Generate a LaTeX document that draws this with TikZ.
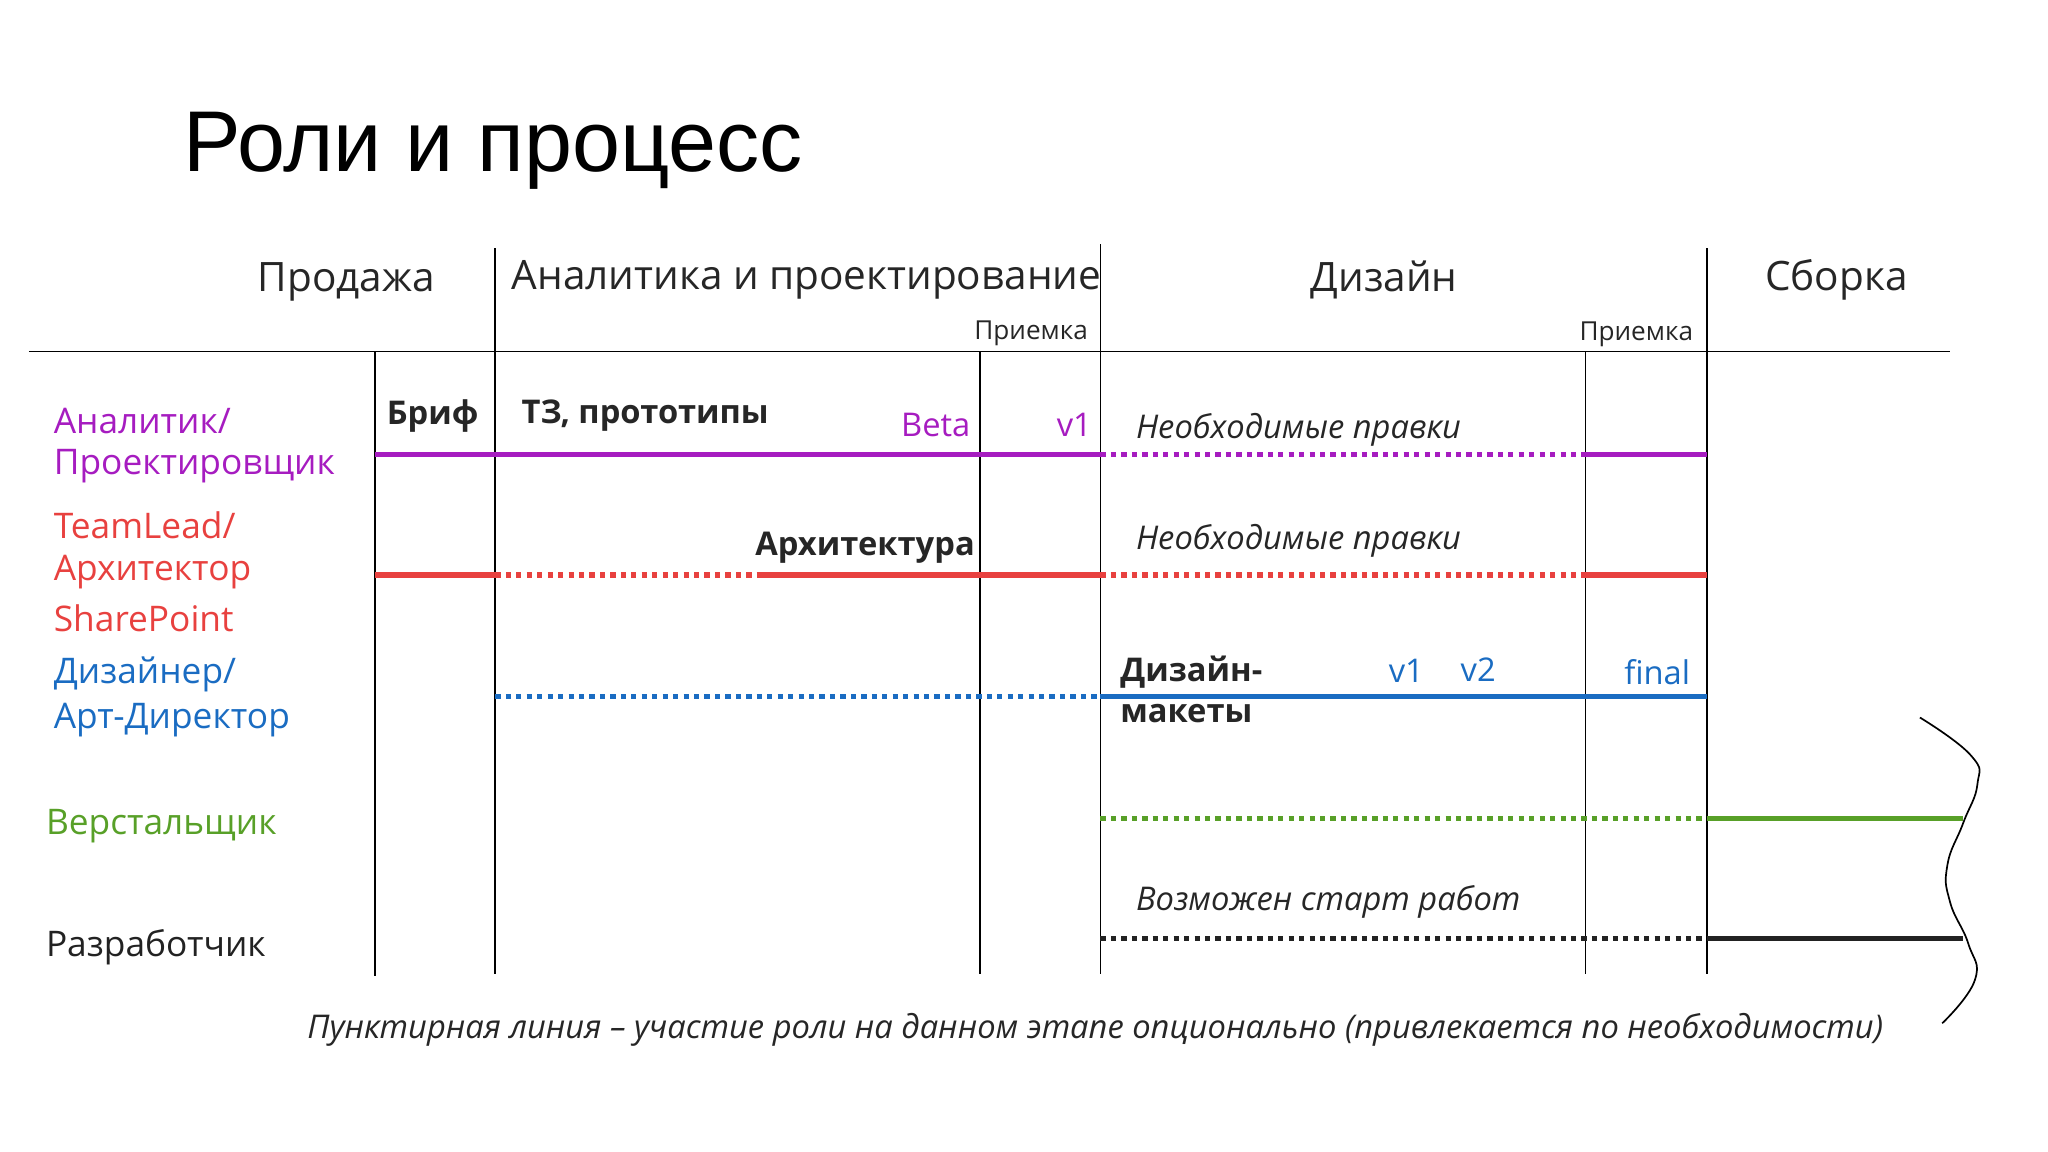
\documentclass[tikz,border=0pt]{standalone}
\usepackage{fontspec}
\setmainfont{Open Sans}
\newfontfamily\titlefont{Liberation Sans}
\definecolor{cpur}{HTML}{A61CC0}
\definecolor{cred}{HTML}{E8413F}
\definecolor{cblu}{HTML}{1A6CC2}
\definecolor{cgrn}{HTML}{58A028}
\definecolor{cblk}{HTML}{222222}
\begin{document}
\begin{tikzpicture}[x=1pt,y=-1pt,
  thin/.style={line width=1.3pt,black},
  sol/.style={line width=4pt},
  dot/.style={line width=4pt,dash pattern=on 4pt off 4pt},
  hdr/.style={font=\fontsize{31}{36}\selectfont,text=black!85,inner sep=0pt},
  small/.style={font=\fontsize{20}{24}\selectfont,text=black!85,inner sep=0pt},
  role/.style={font=\fontsize{27}{32}\selectfont,inner sep=0pt,anchor=west},
  bld/.style={font=\fontsize{25}{30}\selectfont\bfseries,text=black!85,inner sep=0pt},
  itl/.style={font=\fontsize{25}{30}\selectfont\itshape,text=black!85,inner sep=0pt,anchor=west},
  ver/.style={font=\fontsize{25}{30}\selectfont,inner sep=0pt}]
\useasboundingbox (0,0) rectangle (1567,881);
\node[inner sep=0pt,anchor=west,font=\titlefont\fontsize{66}{72}\selectfont] (title) at (140,115) {Роли и процесс};
% grid
\coordinate (hl) at (22,269); \coordinate (hr) at (1492,269);
\draw[thin] (hl) -- (hr);
\foreach \n/\x/\a/\b in {v1/287/269/747,v2/379/190/745,v3/750/269/745,v4/842/187/745,v5/1213/269/745,v6/1306/190/745}{
  \coordinate (\n t) at (\x,\a); \coordinate (\n b) at (\x,\b);
  \draw[thin] (\n t) -- (\n b);}
\node[hdr] (h1) at (265,216) {Продажа};
\node[hdr] (h2) at (617,214) {Аналитика и проектирование};
\node[hdr] (h3) at (1059,214) {Дизайн};
\node[hdr] (h4) at (1405,214) {Сборка};
\node[small] (p1) at (789,255) {Приемка};
\node[small] (p2) at (1252,256) {Приемка};
% roles
\node[role,text=cpur] (r1) at (41,322) {Аналитик/};
\node[role,text=cpur] (r1b) at (41,357) {Проектировщик};
\node[role,text=cred] (r2) at (41,402) {TeamLead/};
\node[role,text=cred] (r2b) at (41,438) {Архитектор};
\node[role,text=cred] (r2c) at (41,473) {SharePoint};
\node[role,text=cblu] (r3) at (41,516) {Дизайнер/};
\node[role,text=cblu] (r3b) at (41,551) {Арт-Директор};
\node[role,text=cgrn] (r4) at (35,632) {Верстальщик};
\node[role,text=cblk] (r5) at (35,725) {Разработчик};
% purple
\coordinate (a0) at (287,348); \coordinate (a1) at (842,348); \coordinate (a2) at (1213,348); \coordinate (a3) at (1306,348);
\draw[sol,cpur] (a0) -- (a1); \draw[dot,cpur] (a1) -- (a2); \draw[sol,cpur] (a2) -- (a3);
\node[bld] (brif) at (331,318) {Бриф};
\node[bld,anchor=west] (tz) at (399,318) {ТЗ, прототипы};
\node[ver,text=cpur] (beta) at (716,325) {Beta};
\node[ver,text=cpur] (pv1) at (822,325) {v1};
\node[itl] (np1) at (869,329) {Необходимые правки};
% red
\coordinate (b0) at (287,440); \coordinate (b1) at (379,440); \coordinate (b2) at (583,440); \coordinate (b3) at (842,440); \coordinate (b4) at (1213,440); \coordinate (b5) at (1306,440);
\draw[sol,cred] (b0) -- (b1); \draw[dot,cred] (b1) -- (b2); \draw[sol,cred] (b2) -- (b3); \draw[dot,cred] (b3) -- (b4); \draw[sol,cred] (b4) -- (b5);
\node[bld,anchor=east] (arch) at (746,419) {Архитектура};
\node[itl] (np2) at (869,414) {Необходимые правки};
% blue
\coordinate (c0) at (379,533); \coordinate (c1) at (842,533); \coordinate (c2) at (1306,533);
\draw[dot,cblu] (c0) -- (c1); \draw[sol,cblu] (c1) -- (c2);
\node[bld,anchor=west] (dm) at (857,514) {Дизайн-};
\node[bld,anchor=west] (dm2) at (857,546) {макеты};
\node[ver,text=cblu] (bv1) at (1076,513) {v1};
\node[ver,text=cblu] (bv2) at (1131,512) {v2};
\node[ver,text=cblu] (fin) at (1268,514) {final};
% green
\coordinate (d0) at (842,626); \coordinate (d1) at (1306,626); \coordinate (d2) at (1502,626);
\draw[dot,cgrn] (d0) -- (d1); \draw[sol,cgrn] (d1) -- (d2);
% black
\coordinate (e0) at (842,718); \coordinate (e1) at (1306,718); \coordinate (e2) at (1502,718);
\draw[dot,cblk] (e0) -- (e1); \draw[sol,cblk] (e1) -- (e2);
\node[itl] (vs) at (869,690) {Возможен старт работ};
% footnote
\node[itl,anchor=center] (foot) at (838,788) {Пунктирная линия – участие роли на данном этапе опционально (привлекается по необходимости)};
% wave
\draw[line width=1.3pt] plot[smooth,tension=0.8] coordinates {(1469,549) (1508,578) (1513,600) (1502,630) (1490,662) (1492,690) (1506,722) (1511,750) (1486,783)};
\end{tikzpicture}
\end{document}
